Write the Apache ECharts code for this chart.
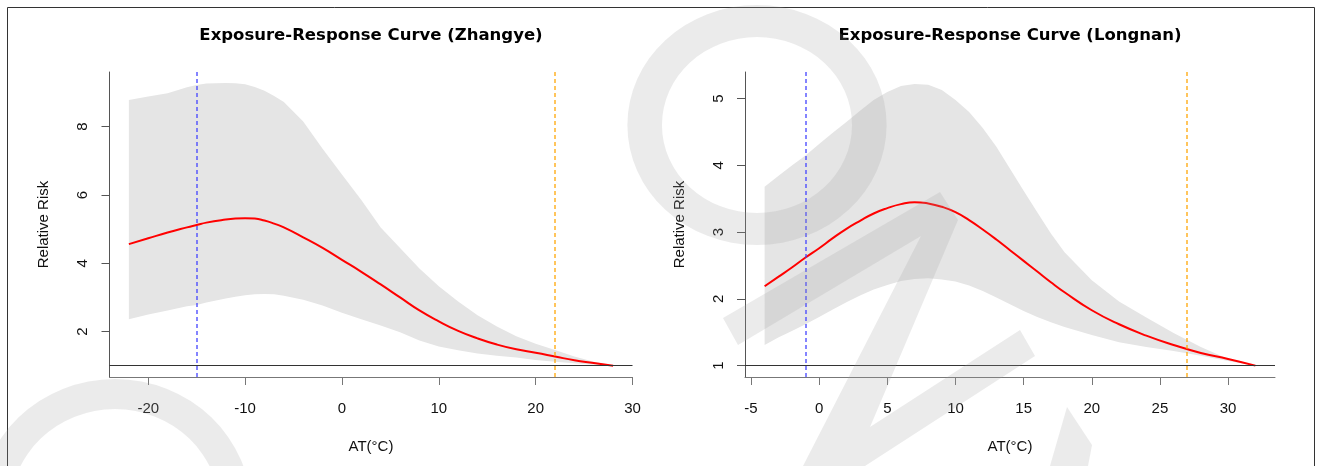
<!DOCTYPE html>
<html>
<head>
<meta charset="utf-8">
<title>Exposure-Response Curves</title>
<script src="https://cdn.jsdelivr.net/npm/echarts@6/dist/echarts.min.js"></script>
<style>
  html, body { margin: 0; padding: 0; background: #fff; }
  #main { width: 1318px; height: 466px; }
</style>
</head>
<body>
<div id="main"></div>
<script>
// Zhangye: temperature (AT), relative risk and its 95% CI
var atZhangye = [-22, -20, -18, -16, -15, -14, -12, -11, -10, -9, -8, -7, -6, -4, -2, 0, 2, 4, 6, 8, 10, 12, 14, 16, 18, 20, 22, 24, 26, 28];
var rrZhangye = [4.56, 4.73, 4.9, 5.05, 5.12, 5.19, 5.28, 5.31, 5.32, 5.31, 5.25, 5.16, 5.05, 4.76, 4.45, 4.1, 3.75, 3.38, 3.0, 2.62, 2.3, 2.02, 1.8, 1.62, 1.48, 1.38, 1.27, 1.16, 1.08, 1.0];
var lowZhangye = [2.36, 2.5, 2.62, 2.74, 2.78, 2.85, 2.97, 3.02, 3.06, 3.09, 3.1, 3.09, 3.05, 2.93, 2.76, 2.55, 2.36, 2.18, 1.98, 1.74, 1.56, 1.45, 1.36, 1.29, 1.24, 1.17, 1.12, 1.07, 1.03, 1.0];
var highZhangye = [8.78, 8.88, 8.98, 9.15, 9.22, 9.26, 9.28, 9.27, 9.24, 9.16, 9.05, 8.9, 8.72, 8.15, 7.35, 6.6, 5.85, 5.05, 4.45, 3.85, 3.33, 2.88, 2.48, 2.15, 1.86, 1.64, 1.46, 1.27, 1.12, 1.0];
var xTicksZhangye = [-20, -10, 0, 10, 20, 30];
var yTicksZhangye = [2, 4, 6, 8];
var coldZhangye = -15;
var hotZhangye = 22;

// Longnan
var atLongnan = [-4, -3, -2, -1, 0, 1, 2, 3, 4, 5, 6, 7, 8, 9, 10, 11, 12, 13, 14, 15, 16, 17, 18, 20, 22, 24, 26, 28, 30, 32];
var rrLongnan = [2.19, 2.33, 2.47, 2.62, 2.76, 2.91, 3.05, 3.17, 3.28, 3.36, 3.42, 3.45, 3.43, 3.38, 3.3, 3.18, 3.04, 2.89, 2.73, 2.57, 2.41, 2.25, 2.1, 1.83, 1.62, 1.45, 1.31, 1.19, 1.1, 1.0];
var lowLongnan = [1.31, 1.42, 1.52, 1.62, 1.73, 1.84, 1.95, 2.05, 2.14, 2.21, 2.27, 2.3, 2.31, 2.29, 2.26, 2.2, 2.12, 2.02, 1.92, 1.82, 1.73, 1.65, 1.58, 1.46, 1.35, 1.28, 1.22, 1.15, 1.07, 1.0];
var highLongnan = [3.68, 3.84, 4.0, 4.15, 4.32, 4.49, 4.65, 4.82, 4.98, 5.1, 5.19, 5.22, 5.21, 5.13, 4.98, 4.8, 4.56, 4.28, 3.95, 3.62, 3.3, 2.98, 2.7, 2.28, 1.96, 1.72, 1.49, 1.28, 1.1, 1.0];
var xTicksLongnan = [-5, 0, 5, 10, 15, 20, 25, 30];
var yTicksLongnan = [1, 2, 3, 4, 5];
var coldLongnan = -1;
var hotLongnan = 27;

var FONT = '"Liberation Sans", Arial, Helvetica, sans-serif';

function pairs(xs, ys) {
    return xs.map(function (x, i) { return [x, ys[i]]; });
}

function xAxisOf(idx, min, max, ticks) {
    return {
        type: 'value', gridIndex: idx, min: min, max: max,
        name: 'AT(°C)', nameLocation: 'middle', nameGap: 62,
        nameTextStyle: { fontSize: 15, color: '#111', fontFamily: FONT },
        axisLine: { show: true, onZero: false, lineStyle: { color: '#777', width: 1 } },
        axisTick: { show: true, length: 8, customValues: ticks, lineStyle: { color: '#777' } },
        axisLabel: { customValues: ticks, fontSize: 15, color: '#111', fontFamily: FONT, margin: 24 },
        splitLine: { show: false }
    };
}
function yAxisOf(idx, min, max, ticks) {
    return {
        type: 'value', gridIndex: idx, min: min, max: max,
        name: 'Relative Risk', nameLocation: 'middle', nameRotate: 90, nameGap: 58,
        nameTextStyle: { fontSize: 15, color: '#111', fontFamily: FONT },
        axisLine: { show: true, onZero: false, lineStyle: { color: '#555', width: 1 } },
        axisTick: { show: true, length: 8, customValues: ticks, lineStyle: { color: '#555' } },
        axisLabel: { customValues: ticks, rotate: 90, fontSize: 15, color: '#111', fontFamily: FONT, margin: 19 },
        splitLine: { show: false }
    };
}
// reference line holder: an empty series that only carries a markLine
function refLine(idx, item, color, dash) {
    return {
        type: 'line', xAxisIndex: idx, yAxisIndex: idx, data: [], silent: true,
        markLine: {
            silent: true, symbol: 'none', label: { show: false },
            lineStyle: { color: color, type: dash, width: 1.5, opacity: 0.85 },
            emphasis: { disabled: true },
            data: [item]
        }
    };
}
function panelSeries(idx, at, rr, low, high, cold, hot) {
    return [
        {
            // 95% CI band as one polygon through the axis scales
            type: 'custom', xAxisIndex: idx, yAxisIndex: idx, silent: true, z: 1,
            data: at.map(function (x, i) { return [x, low[i], high[i]]; }),
            encode: { x: 0, y: [1, 2] },
            renderItem: function (params, api) {
                if (params.dataIndex !== 0) return;
                var top = [], bottom = [];
                for (var i = 0; i < at.length; i++) {
                    top.push(api.coord([at[i], high[i]]));
                    bottom.push(api.coord([at[i], low[i]]));
                }
                return {
                    type: 'polygon',
                    shape: { points: top.concat(bottom.reverse()) },
                    style: { fill: '#e5e5e5', stroke: null }
                };
            }
        },
        refLine(idx, { xAxis: cold }, '#4040ff', [4, 3]),
        refLine(idx, { xAxis: hot }, '#ffa500', [4, 3]),
        {
            type: 'line', xAxisIndex: idx, yAxisIndex: idx,
            data: pairs(at, rr), smooth: true, symbol: 'none', z: 4,
            lineStyle: { color: '#ff0000', width: 2 },
            markLine: {
                silent: true, symbol: 'none', label: { show: false },
                lineStyle: { color: '#333', type: 'solid', width: 1 },
                data: [{ yAxis: 1 }]
            }
        }
    ];
}

var mark = 'rgba(160,160,160,0.21)';
var chart = echarts.init(document.getElementById('main'));
chart.setOption({
    animation: false,
    backgroundColor: '#fff',
    title: [
        { text: 'Exposure-Response Curve (Zhangye)', left: 366, top: 22, textAlign: 'center',
          textStyle: { fontSize: 16.5, fontWeight: 'bold', color: '#000', fontFamily: '"DejaVu Sans", sans-serif' } },
        { text: 'Exposure-Response Curve (Longnan)', left: 1005, top: 22, textAlign: 'center',
          textStyle: { fontSize: 16.5, fontWeight: 'bold', color: '#000', fontFamily: '"DejaVu Sans", sans-serif' } }
    ],
    grid: [
        { left: 109.5, top: 72, width: 523, height: 305 },
        { left: 745, top: 72, width: 530, height: 305 }
    ],
    xAxis: [
        xAxisOf(0, -24, 30, xTicksZhangye),
        xAxisOf(1, -5.44, 33.44, xTicksLongnan)
    ],
    yAxis: [
        yAxisOf(0, 0.67, 9.6, yTicksZhangye),
        yAxisOf(1, 0.83, 5.4, yTicksLongnan)
    ],
    series: panelSeries(0, atZhangye, rrZhangye, lowZhangye, highZhangye, coldZhangye, hotZhangye)
        .concat(panelSeries(1, atLongnan, rrLongnan, lowLongnan, highLongnan, coldLongnan, hotLongnan)),
    graphic: [
        // outer frame
        { type: 'rect', z: 90, silent: true, shape: { x: 7.5, y: 7.5, width: 1307, height: 480 },
          style: { fill: 'none', stroke: '#333', lineWidth: 1 } },
        // faint watermark shapes
        { type: 'ring', z: 95, silent: true, x: 115, y: 510, scaleX: 1.04,
          shape: { cx: 0, cy: 0, r: 131, r0: 101 }, style: { fill: mark } },
        { type: 'ring', z: 95, silent: true, x: 757, y: 125, scaleX: 1.08,
          shape: { cx: 0, cy: 0, r: 120, r0: 88 }, style: { fill: mark } },
        { type: 'polygon', z: 95, silent: true,
          shape: { points: [[723, 318], [940, 192], [958, 220], [870, 427], [1020, 330], [1035, 356], [865, 466], [803, 466], [921, 236], [738, 345]] },
          style: { fill: mark } },
        { type: 'polygon', z: 95, silent: true,
          shape: { points: [[1050, 466], [1067, 407], [1092, 445], [1088, 466]] },
          style: { fill: mark } }
    ]
});
</script>
</body>
</html>
